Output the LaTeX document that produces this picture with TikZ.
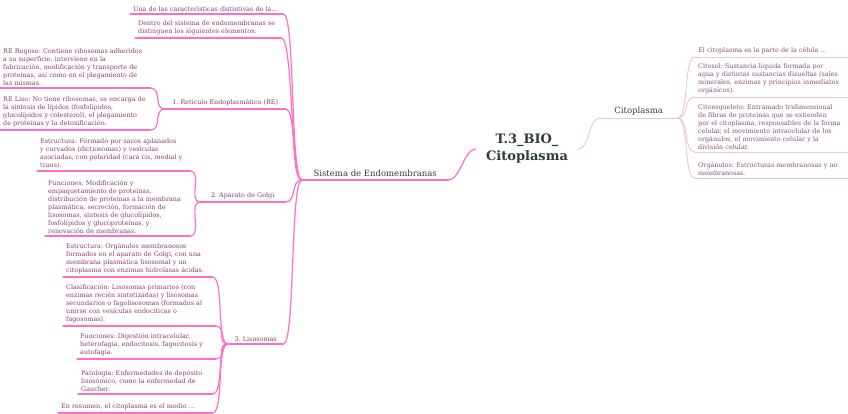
\documentclass[tikz,border=0pt]{standalone}
\usepackage{fontspec}
\setmainfont{DejaVu Serif}
\frenchspacing

\definecolor{linkpink}{HTML}{FF6EC7}
\definecolor{linksoft}{HTML}{E9C4DD}
\definecolor{leaftext}{HTML}{8C3A6E}
\definecolor{softtext}{HTML}{85507A}
\definecolor{headtext}{HTML}{2E3B40}

\tikzset{
  leaf/.style={anchor=south west, inner xsep=3pt, inner ysep=2.5pt, align=left,
    text=leaftext, font=\fontsize{6.4}{8}\selectfont},
  softleaf/.style={leaf, text=softtext},
  branch/.style={leaf, align=center},
  topic/.style={anchor=south west, inner xsep=0pt, inner ysep=3pt, align=center,
    text=headtext, font=\fontsize{8.5}{10}\selectfont},
  hot/.style={draw=linkpink, line width=1.2pt},
  soft/.style={draw=linksoft, line width=0.9pt},
}

\begin{document}
\begin{tikzpicture}[x=1pt, y=-1pt, line cap=round, line join=round]
	\useasboundingbox (0,0) rectangle (848,414);
	
	% centre and the two topics
	\node[inner xsep=10pt, align=center, text=headtext, font=\bfseries\fontsize{13}{17}\selectfont] (root) at (527,149) {T.3\_BIO\_\\Citoplasma};
	\node[topic, minimum width=146pt] (sis) at (302,180) {Sistema de Endomembranas};
	\node[topic, minimum width=77pt] (cit) at (600,118) {Citoplasma};
	
	% Sistema de Endomembranas
	\node[leaf, text width=147pt] (car) at (130,14) {Una de las características distintivas de la...};
	\node[leaf, text width=140pt] (den) at (135,38) {Dentro del sistema de endomembranas se\\distinguen los siguientes elementos:};
	\node[branch, text width=114pt] (ret) at (165,109) {1. Retículo Endoplasmático (RE)};
	\node[branch, text width=79pt] (gol) at (200,202) {2. Aparato de Golgi};
	\node[branch, text width=49pt] (lis) at (228,344) {3. Lisosomas};
	
	\node[leaf, text width=144pt] (rug) at (0,88) {RE Rugoso: Contiene ribosomas adheridos\\a su superficie, interviene en la\\fabricación, modificación y transporte de\\proteínas, así como en el plegamiento de\\las mismas.};
	\node[leaf, text width=144pt] (liso) at (0,130) {RE Liso: No tiene ribosomas, se encarga de\\la síntesis de lípidos (fosfolípidos,\\glucolípidos y colesterol), el plegamiento\\de proteínas y la detoxificación.};
	
	\node[leaf, text width=147pt] (gest) at (37,171) {Estructura: Formado por sacos aplanados\\y curvados (dictiosomas) y vesículas\\asociadas, con polaridad (cara cis, medial y\\trans).};
	\node[leaf, text width=139pt] (gfun) at (45,236) {Funciones: Modificación y\\empaquetamiento de proteínas,\\distribución de proteínas a la membrana\\plasmática, secreción, formación de\\lisosomas, síntesis de glucolípidos,\\fosfolípidos y glucoproteínas, y\\renovación de membranas.};
	
	\node[leaf, text width=143pt] (lest) at (63,277) {Estructura: Orgánulos membranosos\\formados en el aparato de Golgi, con una\\membrana plasmática lisosomal y un\\citoplasma con enzimas hidrolasas ácidas.};
	\node[leaf, text width=146pt] (lcla) at (63,326) {Clasificación: Lisosomas primarios (con\\enzimas recién sintetizadas) y lisosomas\\secundarios o fagolisosomas (formados al\\unirse con vesículas endocíticas o\\fagosomas).};
	\node[leaf, text width=132pt] (lfun) at (77,359) {Funciones: Digestión intracelular,\\heterofagia, endocitosis, fagocitosis y\\autofagia.};
	\node[leaf, text width=128pt] (lpat) at (78,394) {Patología: Enfermedades de depósito\\lisosómico, como la enfermedad de\\Gaucher.};
	\node[leaf, text width=148pt] (lres) at (58,413) {En resumen, el citoplasma es el medio ...};
	
	% Citoplasma
	\node[softleaf, text width=150pt] (cel) at (695,57) {El citoplasma es la parte de la célula ...};
	\node[softleaf, text width=150pt] (sol) at (695,97) {Citosol: Sustancia líquida formada por\\agua y distintas sustancias disueltas (sales\\minerales, enzimas y principios inmediatos\\orgánicos).};
	\node[softleaf, text width=150pt] (esq) at (695,152) {Citoesqueleto: Entramado tridimensional\\de fibras de proteínas que se extienden\\por el citoplasma, responsables de la forma\\celular, el movimiento intracelular de los\\orgánulos, el movimiento celular y la\\división celular.};
	\node[softleaf, text width=150pt] (org) at (695,178) {Orgánulos: Estructuras membranosas y no\\membranosas.};
	
	% underlines
	\foreach \n in {sis,car,den,ret,gol,lis,rug,liso,gest,gfun,lest,lcla,lfun,lpat,lres}
		\draw[hot] (\n.south west) -- (\n.south east);
	\foreach \n in {cit,cel,sol,esq,org}
		\draw[soft] (\n.south west) -- (\n.south east);
	
	% connectors
	\draw[hot] (sis.south east) .. controls +(12,0) and +(-12,0) .. (root.west);
	\draw[soft] (root.east) .. controls +(12,0) and +(-12,0) .. (cit.south west);
	\foreach \c/\p in {car/sis,den/sis,ret/sis,gol/sis,lis/sis,rug/ret,liso/ret,gest/gol,gfun/gol,lest/lis,lcla/lis,lfun/lis,lpat/lis,lres/lis}
		\draw[hot] (\c.south east) .. controls +(12,0) and +(-12,0) .. (\p.south west);
	\foreach \c in {cel,sol,esq,org}
		\draw[soft] (cit.south east) .. controls +(12,0) and +(-12,0) .. (\c.south west);
\end{tikzpicture}
\end{document}
